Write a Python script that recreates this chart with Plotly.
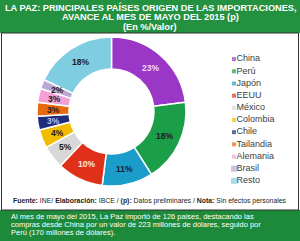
import math
import plotly.graph_objects as go

countries = ["China", "Perú", "Japón", "EEUU", "México", "Colombia", "Chile",
             "Tailandia", "Alemania", "Brasil", "Resto"]
shares = [23, 18, 11, 10, 5, 4, 3, 3, 3, 2, 18]
colors = ["#9B37C6", "#1A9E48", "#1B9DC9", "#E0301A", "#D8D8D8", "#F4BC00",
          "#1F2C7C", "#E8690E", "#F49FD6", "#BCA6D6", "#7ECDE0"]
label_colors = ["#F6DDF2", "#1A1A1A", "#1A1A3A", "#FBE6E0", "#1A1A1A", "#1A1A1A",
                "#B8C4F4", "#1A1A1A", "#1A1A1A", "#1A1A1A", "#1A1A1A"]
legend_sizes = [4, 4, 4, 4, 4, 4, 4, 4, 4, 6, 6]

title_lines = ["LA PAZ: PRINCIPALES PAÍSES ORIGEN DE LAS IMPORTACIONES,",
               "AVANCE AL MES DE MAYO DEL 2015 (p)", "(En %/Valor)"]
source = ("<b>Fuente:</b> INE/ <b>Elaboración:</b> IBCE / <b>(p):</b> Datos preliminares / "
          "<b>Nota:</b> Sin efectos personales")
note_lines = ["Al mes de mayo del 2015, La Paz importó de 126 paises, destacando las",
              "compras desde China por un valor de 223 millones de dólares, seguido por",
              "Perú (170 millones de dólares)."]

H = 241.0
W = 300.0
FONT = "Liberation Sans, Arial, sans-serif"
HOLE = 0.57
PIE_X = [37 / W, 186 / W]
PIE_Y = [1 - 186 / H, 1 - 37 / H]

fig = go.Figure()
fig.add_trace(go.Pie(
    labels=countries, values=shares, sort=False, direction="clockwise", rotation=0,
    hole=HOLE,
    marker=dict(colors=colors, line=dict(color="white", width=1.5)),
    textinfo="none",
    domain=dict(x=PIE_X, y=PIE_Y),
    showlegend=False,
))

idx = list(range(len(countries)))
fig.add_trace(go.Scatter(
    x=[0] * len(countries), y=idx, mode="markers",
    marker=dict(symbol="square", color=colors, size=legend_sizes, line=dict(width=0)),
    cliponaxis=False, showlegend=False, hoverinfo="skip",
))
fig.add_trace(go.Scatter(
    x=[2.6] * len(countries), y=idx, mode="text", text=countries,
    textposition="middle right",
    textfont=dict(family=FONT, size=9, color="#404040"),
    cliponaxis=False, showlegend=False, hoverinfo="skip",
))

annotations = []
# slice labels, placed at the middle of the ring, derived from the shares
total = float(sum(shares))
mid_r = (1 + HOLE) / 2
cum = 0.0
for v, c in zip(shares, label_colors):
    ang = 2 * math.pi * (cum + v / 2) / total
    cum += v
    annotations.append(dict(
        text="<b>%d%%</b>" % v, xref="x2", yref="y2",
        x=mid_r * math.sin(ang), y=mid_r * math.cos(ang),
        xanchor="center", yanchor="middle", showarrow=False,
        font=dict(family=FONT, size=8.5, color=c)))

for i, line in enumerate(title_lines):
    annotations.append(dict(
        text="<b>" + line + "</b>", xref="paper", yref="paper", x=0.5,
        y=1 - (7 + 10 * i) / H, xanchor="center", yanchor="middle", showarrow=False,
        font=dict(family=FONT, size=9.2, color="white")))
annotations.append(dict(
    text=source, xref="paper", yref="paper", x=0.5, y=1 - 201 / H,
    xanchor="center", yanchor="middle", showarrow=False,
    font=dict(family=FONT, size=6.9, color="#222222")))
for i, line in enumerate(note_lines):
    annotations.append(dict(
        text=line, xref="paper", yref="paper", x=9 / W, y=1 - (216.5 + 8.0 * i) / H,
        xanchor="left", yanchor="middle", showarrow=False,
        font=dict(family=FONT, size=7.5, color="white")))

fig.update_layout(
    width=300, height=241, margin=dict(l=0, r=0, t=0, b=0),
    paper_bgcolor="white", plot_bgcolor="rgba(0,0,0,0)",
    xaxis=dict(domain=[234 / W, 1], range=[0, 66], visible=False, fixedrange=True),
    yaxis=dict(domain=[1 - 187 / H, 1 - 53 / H], range=[10.5, -0.5], visible=False,
               fixedrange=True),
    xaxis2=dict(domain=PIE_X, range=[-1, 1], visible=False, fixedrange=True),
    yaxis2=dict(domain=PIE_Y, range=[-1, 1], visible=False, fixedrange=True),
    shapes=[
        dict(type="rect", xref="paper", yref="paper", x0=0, x1=1, y0=1 - 33 / H, y1=1,
             fillcolor="#23913F", line=dict(width=0), layer="below"),
        dict(type="rect", xref="paper", yref="paper", x0=1.5 / W, x1=298.5 / W,
             y0=1 - 210 / H, y1=1 - 33 / H, fillcolor="rgba(0,0,0,0)",
             line=dict(color="#333333", width=1)),
        dict(type="rect", xref="paper", yref="paper", x0=0, x1=1, y0=0, y1=1 - 210 / H,
             fillcolor="#1C8A3A", line=dict(width=0), layer="below"),
    ],
    annotations=annotations,
)

fig.write_html("out.html")
